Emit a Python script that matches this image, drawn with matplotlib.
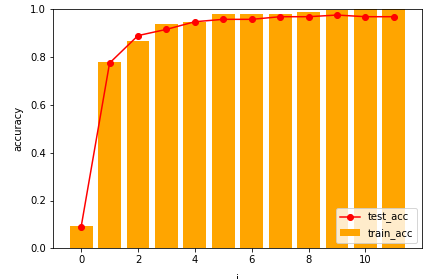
import matplotlib
matplotlib.use('Agg')
import matplotlib.pyplot as plt
import numpy as np

# epochs and accuracies
epochs = list(range(12))
train_acc = [0.092, 0.781, 0.869, 0.937, 0.947, 0.979, 0.979, 0.979, 0.989, 0.997, 1.0, 1.0]
test_acc = [0.090, 0.775, 0.890, 0.916, 0.948, 0.958, 0.958, 0.969, 0.969, 0.976, 0.969, 0.969]

fig = plt.figure(figsize=(438 / 72, 279 / 72), dpi=72)
ax = fig.add_axes([53 / 438, 1 - 248.3 / 279, (422 - 53) / 438, (248.3 - 9.3) / 279])

ax.bar(epochs, train_acc, color='orange', label='train_acc')
ax.plot(epochs, test_acc, color='red', marker='o', label='test_acc')

ax.set_ylim(0, 1)
ax.set_xlabel('i', labelpad=9)
ax.set_ylabel('accuracy', labelpad=7)
ax.legend(loc='lower right')

fig.savefig('out.png', dpi=72)
